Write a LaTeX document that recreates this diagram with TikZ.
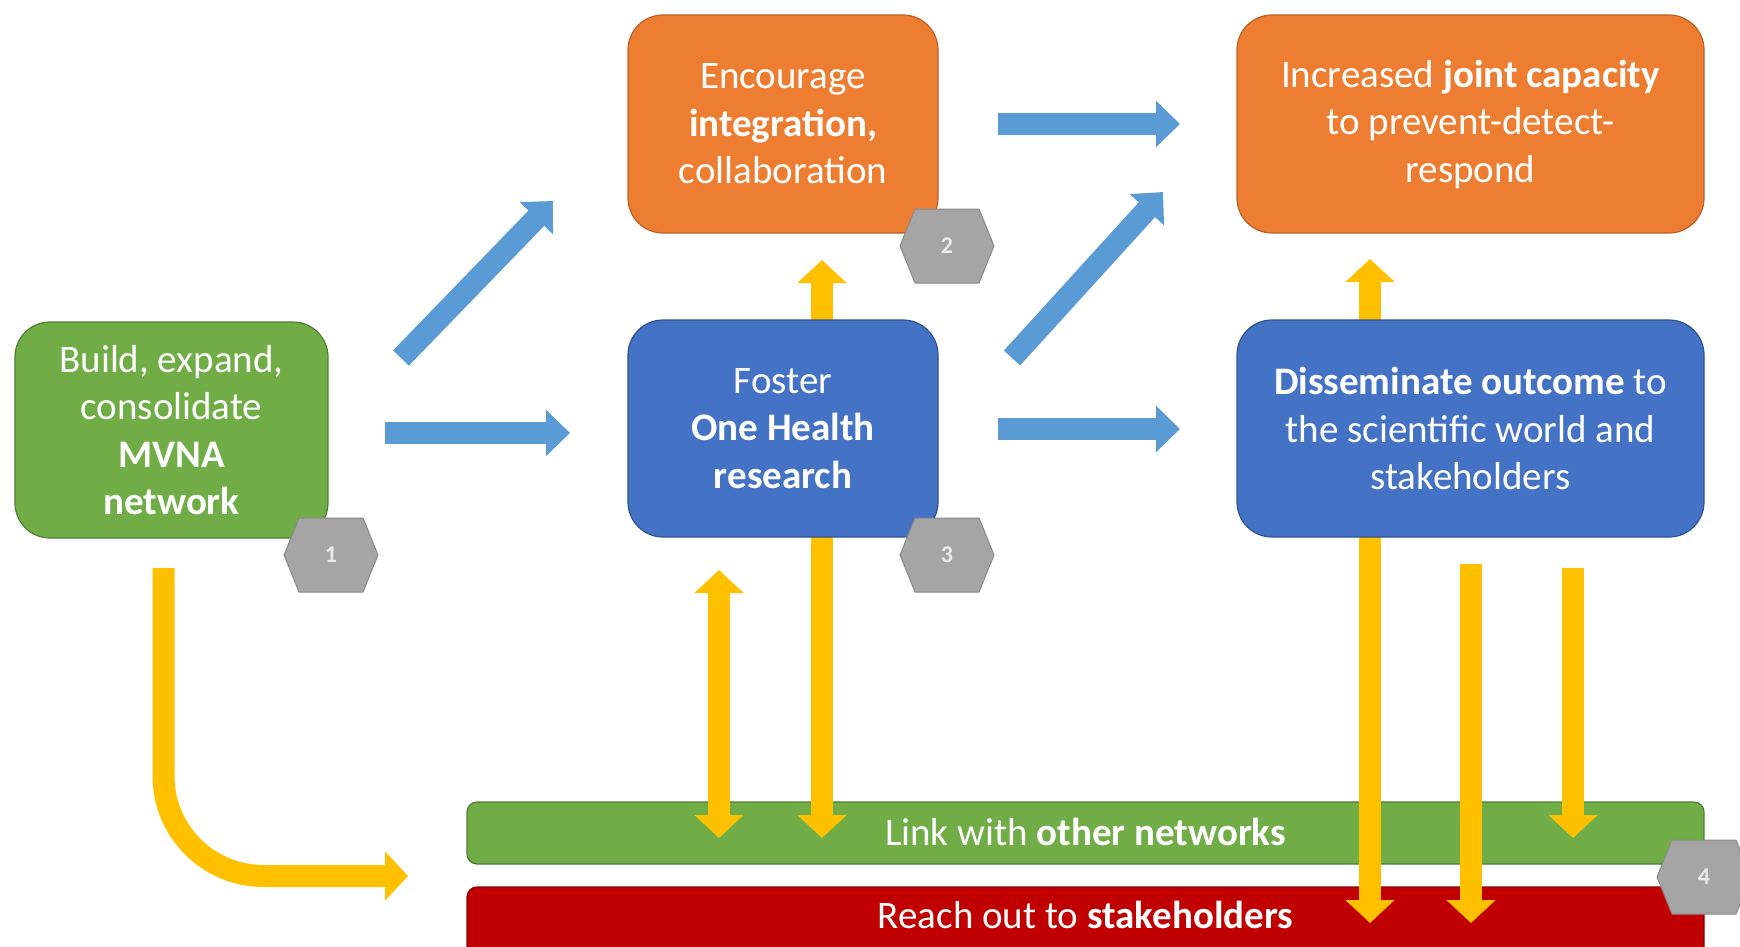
\documentclass[tikz,border=0pt]{standalone}
\usepackage{fontspec}
\setmainfont{Carlito}
\usetikzlibrary{arrows.meta,calc}
\definecolor{cOrange}{HTML}{ED7D31}
\definecolor{cOrangeLine}{HTML}{B9612A}
\definecolor{cBlue}{HTML}{4472C4}
\definecolor{cBlueLine}{HTML}{2F528F}
\definecolor{cGreen}{HTML}{70AD47}
\definecolor{cGreenLine}{HTML}{507E32}
\definecolor{cRed}{HTML}{C00000}
\definecolor{cRedLine}{HTML}{8C0000}
\definecolor{cYellow}{HTML}{FFC000}
\definecolor{cArrow}{HTML}{5B9BD5}
\definecolor{cHex}{HTML}{A5A5A5}
\definecolor{cHexLine}{HTML}{8A8A8A}
\newcommand\hexmark[4]{%
  \filldraw[fill=cHex, draw=cHexLine, line width=1pt]
    (#2-47,#3) -- (#2-32,#3-37) -- (#2+32,#3-37) -- (#2+47,#3)
    -- (#2+32,#3+37) -- (#2-32,#3+37) -- cycle;
  \node[hextext] (#1) at (#2,#3) {#4};}
\begin{document}
\begin{tikzpicture}[x=1pt,y=-1pt,
  boxtext/.style={text=white, align=center, font=\fontsize{39}{47.5}\selectfont},
  bigbox/.style={boxtext, rounded corners=35pt, inner sep=0pt, line width=1.2pt},
  orangebox/.style={bigbox, fill=cOrange, draw=cOrangeLine},
  bluebox/.style={bigbox, fill=cBlue, draw=cBlueLine},
  greenbox/.style={bigbox, fill=cGreen, draw=cGreenLine},
  barbox/.style={rounded corners=10pt, minimum width=1237pt, inner sep=0pt, line width=1.2pt},
  bartext/.style={boxtext},
  hextext/.style={text=white!92!black, font=\fontsize{24}{24}\selectfont\bfseries},
  yarrow/.style={draw=cYellow, line width=22pt},
  ytip/.tip={Triangle[width=48pt,length=23pt]},
  yhead/.style={yarrow, -ytip},
  ydouble/.style={yarrow, ytip-ytip},
  barrow/.style={draw=cArrow, line width=22pt, -{Triangle[width=45pt,length=24pt]}}
]
\useasboundingbox (0,0) rectangle (1740,947);
\fill[white] (0,0) rectangle (1740,947);

% bars
\node[barbox, fill=cGreen, draw=cGreenLine, minimum height=62pt] (linkbar) at (1085.5,833) {};
\node[barbox, fill=cRed, draw=cRedLine, minimum height=90pt] (reachbar) at (1085.5,932) {};
\node[bartext] (linktext) at (1085.5,832) {Link with \textbf{other networks}};
\node[bartext] (reachtext) at (1085.5,915) {Reach out to \textbf{stakeholders}};

% yellow arrow end points
\coordinate (y1t) at (822,260);  \coordinate (y1b) at (822,838);
\coordinate (y2t) at (719,570);  \coordinate (y2b) at (719,838);
\coordinate (y3t) at (1370,259); \coordinate (y3b) at (1370,923);
\coordinate (y4t) at (1471,564); \coordinate (y4b) at (1471,923);
\coordinate (y5t) at (1573,568); \coordinate (y5b) at (1573,838);
\coordinate (c0) at (163.5,568); \coordinate (c2) at (408,876);

\draw[ydouble] (y1t) -- (y1b);
\draw[ydouble] (y2t) -- (y2b);
\draw[ydouble] (y3t) -- (y3b);
\draw[yhead] (y4t) -- (y4b);
\draw[yhead] (y5t) -- (y5b);
\draw[yhead, rounded corners=100pt] (c0) -- (c0 |- c2) -- (c2);

% boxes
\node[greenbox, minimum width=313pt, minimum height=216pt] (build) at (171.5,430)
  {Build, expand,\\consolidate\\\textbf{MVNA}\\\textbf{network}};
\node[orangebox, minimum width=310pt, minimum height=218pt] (encourage) at (783,124)
  {Encourage\\\textbf{integration,}\\collaboration};
\node[bluebox, minimum width=310pt, minimum height=217pt] (foster) at (783,428.5)
  {Foster\\\textbf{One Health}\\\textbf{research}};
\node[orangebox, minimum width=467pt, minimum height=218pt] (capacity) at (1470.5,124)
  {Increased \textbf{joint capacity}\\to prevent-detect-\\respond};
\node[bluebox, minimum width=467pt, minimum height=217pt] (dissem) at (1470.5,428.5)
  {\textbf{Disseminate outcome} to\\the scientific world and\\stakeholders};

% blue arrows
\coordinate (a1s) at (385,433);  \coordinate (a1e) at (570,433);
\coordinate (a2s) at (401,358);  \coordinate (a2e) at (553,201);
\coordinate (a3s) at (998,124);  \coordinate (a3e) at (1180,124);
\coordinate (a4s) at (1012,358); \coordinate (a4e) at (1163,192);
\coordinate (a5s) at (998,429);  \coordinate (a5e) at (1180,429);
\draw[barrow] (a1s) -- (a1e);
\draw[barrow] (a2s) -- (a2e);
\draw[barrow] (a3s) -- (a3e);
\draw[barrow] (a4s) -- (a4e);
\draw[barrow] (a5s) -- (a5e);

% hexagons
\hexmark{h1}{331}{555}{1}
\hexmark{h2}{947}{246}{2}
\hexmark{h3}{947}{555}{3}
\hexmark{h4}{1704}{877}{4}
\end{tikzpicture}
\end{document}
